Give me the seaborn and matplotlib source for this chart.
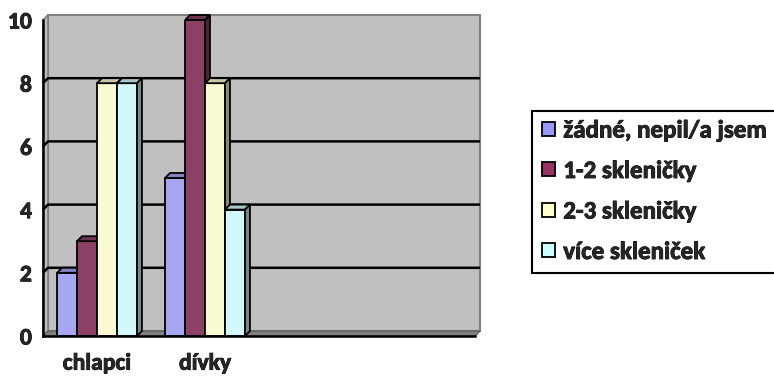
import matplotlib
matplotlib.use("Agg")
import matplotlib.pyplot as plt
import matplotlib.colors as mcolors
import matplotlib.patheffects as pe
from matplotlib.patches import Polygon, Rectangle, Patch
import pandas as pd
import seaborn as sns

# --- data -------------------------------------------------------------
skupiny = ["chlapci", "dívky"]
odpovedi = ["žádné, nepil/a jsem", "1-2 skleničky", "2-3 skleničky", "více skleniček"]
chlapci = [2, 3, 8, 8]
divky = [5, 10, 8, 4]
barvy = ["#9999FF", "#993366", "#FFFFCC", "#CCFFFF"]
y_ticks = [0, 2, 4, 6, 8, 10]

rows = []
for sk, vals in zip(skupiny, [chlapci, divky]):
    for od, v in zip(odpovedi, vals):
        rows.append({"skupina": sk, "odpoved": od, "pocet": v})
df = pd.DataFrame(rows)

# --- figure -----------------------------------------------------------
sns.set_style("white")
plt.rcParams["font.family"] = ["Carlito", "DejaVu Sans"]
plt.rcParams["font.weight"] = "bold"
FS = 17
FS_LEG = 18
heavy = [pe.withStroke(linewidth=0.6, foreground="black")]

W, H = 774, 376
fig = plt.figure(figsize=(W / 100, H / 100), dpi=100)
ax_l, ax_b, ax_w, ax_h = 43, 40, 432, 316
ax = fig.add_axes([ax_l / W, ax_b / H, ax_w / W, ax_h / H])
ax.set_facecolor("none")

sns.barplot(data=df, x="skupina", y="pocet", hue="odpoved", order=skupiny,
            hue_order=odpovedi, palette=barvy, edgecolor="black", linewidth=1.3,
            width=0.74, legend=False, ax=ax)
bars = list(ax.patches)

ax.set_xlim(-0.5, 3.5)
ax.set_ylim(0, 10)

# depth of the pseudo-3D effect, in pixels -> data units
depth = 5
dx = depth * 4 / ax_w
dy = depth * 10 / ax_h
x0, x1 = -0.5, 3.5

# back wall, side wall and floor
ax.add_patch(Rectangle((x0 + dx, dy), x1 - x0, 10, facecolor="#C0C0C0",
                       edgecolor="#808080", lw=1.5, zorder=0.5, clip_on=False))
ax.add_patch(Polygon([(x0, 0), (x0, 10), (x0 + dx, 10 + dy), (x0 + dx, dy)],
                     closed=True, facecolor="#C0C0C0", edgecolor="#808080",
                     lw=1.2, zorder=0.6, clip_on=False))
ax.add_patch(Polygon([(x0, 0), (x1, 0), (x1 + dx, dy), (x0 + dx, dy)],
                     closed=True, facecolor="#808080", edgecolor="#606060",
                     lw=1.0, zorder=0.6, clip_on=False))

# gridlines drawn on the walls
for v in y_ticks[1:-1]:
    ax.plot([x0, x0 + dx, x1 + dx], [v, v + dy, v + dy], color="black",
            lw=1.8, zorder=0.8, clip_on=False, solid_capstyle="butt")


def shade(c, f):
    r, g, b, _ = mcolors.to_rgba(c)
    return (r * f, g * f, b * f)


# bars with top and side faces, drawn left to right
bars.sort(key=lambda p: p.get_x())
for k, p in enumerate(bars):
    z = 3 + k * 0.01
    p.set_zorder(z)
    bx0 = p.get_x()
    bx1 = bx0 + p.get_width()
    h = p.get_height()
    fc = p.get_facecolor()
    ax.add_patch(Polygon([(bx0, h), (bx0 + dx, h + dy), (bx1 + dx, h + dy), (bx1, h)],
                         closed=True, facecolor=shade(fc, 0.8), edgecolor="black",
                         lw=1.3, zorder=z + 0.005, clip_on=False))
    ax.add_patch(Polygon([(bx1, 0), (bx1, h), (bx1 + dx, h + dy), (bx1 + dx, dy)],
                         closed=True, facecolor=shade(fc, 0.55), edgecolor="black",
                         lw=1.3, zorder=z + 0.005, clip_on=False))

# axes
for s in ["top", "right"]:
    ax.spines[s].set_visible(False)
for s in ["left", "bottom"]:
    ax.spines[s].set_color("black")
    ax.spines[s].set_linewidth(1.8)
    ax.spines[s].set_zorder(5)

ax.set_yticks(y_ticks)
ax.set_yticklabels([str(t) for t in y_ticks], fontsize=FS, fontweight="bold")
ax.tick_params(axis="y", direction="out", length=5, width=1.8, color="black", pad=3)

ax.set_xticks([0, 1])
ax.set_xticklabels(skupiny, fontsize=FS, fontweight="bold")
ax.set_xticks([-0.5, 0.5, 1.5, 2.5, 3.5], minor=True)
ax.tick_params(axis="x", which="major", length=0, pad=12)
ax.tick_params(axis="x", which="minor", direction="out", length=5, width=1.8,
               color="black")
ax.set_xlabel("")
ax.set_ylabel("")
for t in ax.get_xticklabels() + ax.get_yticklabels():
    t.set_path_effects(heavy)

# legend
handles = [Patch(facecolor=c, edgecolor="black", lw=1.3) for c in barvy]
leg = fig.legend(handles, odpovedi, loc="lower left",
                 bbox_to_anchor=(532 / W, 1 - 273 / H), frameon=True,
                 fancybox=False, edgecolor="black", framealpha=1,
                 prop={"size": FS_LEG, "weight": "bold"}, handlelength=0.5,
                 handleheight=0.5, handletextpad=0.35, labelspacing=0.78,
                 borderpad=0.4, borderaxespad=0)
leg.get_frame().set_linewidth(1.5)
for t in leg.get_texts():
    t.set_path_effects(heavy)

fig.savefig("out.png", dpi=100)
